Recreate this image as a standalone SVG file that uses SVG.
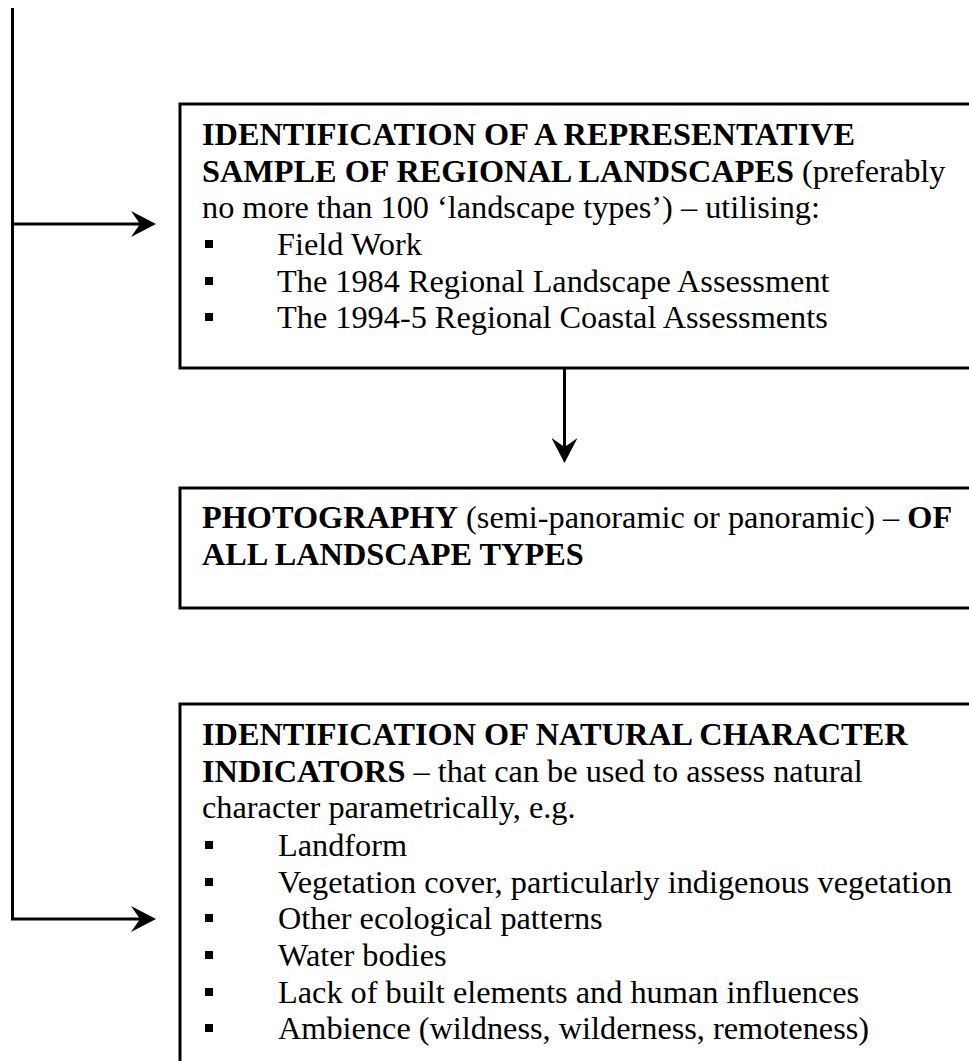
<svg xmlns="http://www.w3.org/2000/svg" width="969" height="1061" viewBox="0 0 969 1061">
<style>
.box{fill:#fff;stroke:#000;stroke-width:3}
.t{font-family:"Liberation Serif","Times New Roman",serif;font-size:32.3px;fill:#000}
.b{font-weight:bold}
.conn{fill:none;stroke:#000;stroke-width:3}
.bul{fill:#000}
</style>
<defs>
<marker id="ah" markerUnits="userSpaceOnUse" viewBox="0 0 25 26" refX="14" refY="13" markerWidth="25" markerHeight="26" orient="auto">
<path d="M0,0 L25,13 L0,26 L9,13 z" fill="#000"/>
</marker>
</defs>
<rect width="969" height="1061" fill="#fff"/>
<g id="connectors">
<path class="conn" d="M12.5,8 V919 H145" marker-end="url(#ah)"/>
<path class="conn" d="M12.5,224 H145" marker-end="url(#ah)"/>
<path class="conn" d="M564.5,368 V452" marker-end="url(#ah)"/>
</g>
<g id="node-sample">
<rect class="box" x="180" y="104" width="800" height="264"/>
<text class="t" x="202" y="145"><tspan class="b">IDENTIFICATION OF A REPRESENTATIVE</tspan></text>
<text class="t" x="202" y="182"><tspan class="b">SAMPLE OF REGIONAL LANDSCAPES</tspan> (preferably</text>
<text class="t" x="202" y="218">no more than 100 ‘landscape types’) – utilising:</text>
<rect class="bul" x="205" y="240" width="8" height="8"/>
<text class="t" x="277" y="255">Field Work</text>
<rect class="bul" x="205" y="277" width="8" height="8"/>
<text class="t" x="277" y="292">The 1984 Regional Landscape Assessment</text>
<rect class="bul" x="205" y="313" width="8" height="8"/>
<text class="t" x="277" y="328">The 1994-5 Regional Coastal Assessments</text>
</g>
<g id="node-photography">
<rect class="box" x="180" y="488" width="800" height="120"/>
<text class="t" x="202" y="528"><tspan class="b">PHOTOGRAPHY</tspan> (semi-panoramic or panoramic) – <tspan class="b">OF</tspan></text>
<text class="t b" x="202" y="565">ALL LANDSCAPE TYPES</text>
</g>
<g id="node-indicators">
<rect class="box" x="180" y="704" width="800" height="380"/>
<text class="t b" x="202" y="745">IDENTIFICATION OF NATURAL CHARACTER</text>
<text class="t" x="202" y="782"><tspan class="b">INDICATORS</tspan> – that can be used to assess natural</text>
<text class="t" x="202" y="818">character parametrically, e.g.</text>
<rect class="bul" x="205" y="841" width="8" height="8"/>
<text class="t" x="278" y="856">Landform</text>
<rect class="bul" x="205" y="878" width="8" height="8"/>
<text class="t" x="278" y="893">Vegetation cover, particularly indigenous vegetation</text>
<rect class="bul" x="205" y="914" width="8" height="8"/>
<text class="t" x="278" y="929">Other ecological patterns</text>
<rect class="bul" x="205" y="951" width="8" height="8"/>
<text class="t" x="278" y="966">Water bodies</text>
<rect class="bul" x="205" y="988" width="8" height="8"/>
<text class="t" x="278" y="1003">Lack of built elements and human influences</text>
<rect class="bul" x="205" y="1024" width="8" height="8"/>
<text class="t" x="278" y="1039">Ambience (wildness, wilderness, remoteness)</text>
</g>
</svg>
